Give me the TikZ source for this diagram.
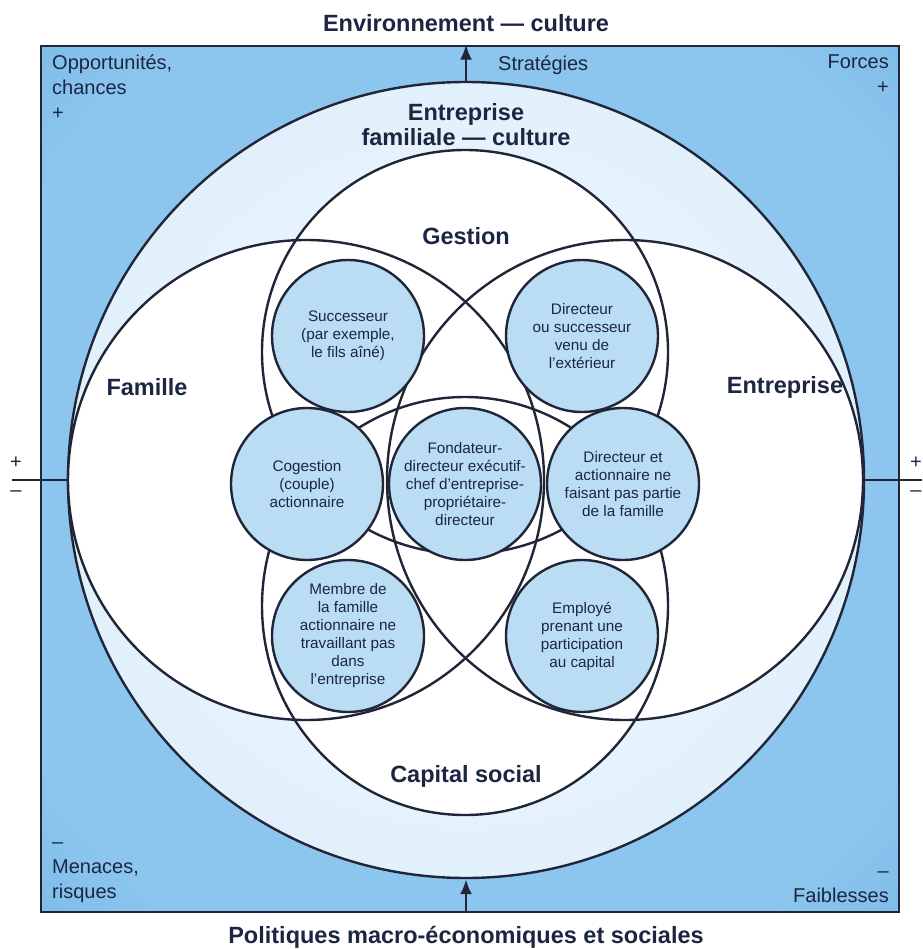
\documentclass[tikz,border=0pt]{standalone}
\usepackage{fontspec}
\setmainfont{Liberation Sans}
\usepackage{xcolor}
\usetikzlibrary{shapes,arrows.meta}

\definecolor{trait}{RGB}{32,38,56}
\definecolor{texte}{RGB}{28,38,66}
\definecolor{fond}{RGB}{86,160,220}
\definecolor{fondclair}{RGB}{140,198,238}
\definecolor{cercle}{RGB}{202,229,248}
\definecolor{cerclemi}{RGB}{232,243,252}
\definecolor{bulle}{RGB}{186,221,243}

\pgfdeclareradialshading{fondbox}{\pgfpoint{0bp}{0bp}}{color(0bp)=(fondclair); color(30bp)=(fondclair); color(52bp)=(fond); color(75bp)=(fond)}
\pgfdeclareradialshading{fondcercle}{\pgfpoint{0bp}{0bp}}{color(0bp)=(white); color(18bp)=(cerclemi); color(50bp)=(cercle)}

\tikzset{
  bulle/.style={circle, draw=trait, line width=2.4, fill=bulle, minimum size=152, inner sep=0,
    align=center, text=texte, font=\fontsize{15.3}{18}\selectfont},
  titre/.style={font=\bfseries\fontsize{23.5}{25}\selectfont, text=texte, align=center},
  coin/.style={font=\fontsize{20}{25}\selectfont, text=texte, inner sep=0},
  fleche/.style={line width=2.6, draw=trait, -{Latex[length=15pt,width=12pt]}}
}

\begin{document}
\begin{tikzpicture}[x=1pt, y=-1pt]
\useasboundingbox (0,0) rectangle (922,949);
% cadre et grand cercle
\node[rectangle, minimum width=858, minimum height=866, inner sep=0, shading=fondbox, draw=trait, line width=2.8] (cadre) at (470,479) {};
\node[circle, minimum size=796, inner sep=0, shading=fondcercle, draw=trait, line width=2.4] (cercle) at (466,480) {};

% famille, entreprise, gestion, capital social
\foreach \cx/\cy/\rx/\ry in {306/480/238/240, 625/480/238/240, 465/352/203/202, 465/606/203/209}
  \fill[white] (\cx,\cy) ellipse [x radius=\rx, y radius=\ry];
\foreach \cx/\cy/\rx/\ry in {306/480/238/240, 625/480/238/240, 465/352/203/202, 465/606/203/209}
  \draw[trait, line width=2.4] (\cx,\cy) ellipse [x radius=\rx, y radius=\ry];

% bulles
\node[bulle] (succ) at (348,336) {Successeur\\(par exemple,\\le fils aîné)};
\node[bulle] (dirext) at (582,336) {Directeur\\ou successeur\\venu de\\l'extérieur};
\node[bulle] (coges) at (307,484) {Cogestion\\(couple)\\actionnaire};
\node[bulle] (fond) at (465,484) {Fondateur-\\directeur exécutif-\\chef d'entreprise-\\propriétaire-\\directeur};
\node[bulle] (dirnf) at (623,484) {Directeur et\\actionnaire ne\\faisant pas partie\\de la famille};
\node[bulle] (membre) at (348,636) {Membre de\\la famille\\actionnaire ne\\travaillant pas\\dans\\l'entreprise};
\node[bulle] (empl) at (582,636) {Employé\\prenant une\\participation\\au capital};

% titres
\node[titre] (env) at (466,23) {Environnement — culture};
\node[titre] (pol) at (466,937) {Politiques macro-économiques et sociales};
\node[titre] (efc) at (466,125) {Entreprise\\familiale — culture};
\node[titre] (ges) at (466,236) {Gestion};
\node[titre] (fam) at (147,387) {Famille};
\node[titre] (entr) at (785,387) {Entreprise};
\node[titre] (cap) at (466,776) {Capital social};

% coins
\node[coin, anchor=north west, align=left] (opp) at (52,55) {Opportunités,\\chances\\+};
\node[coin, anchor=north east, align=right] (forces) at (889,55) {Forces\\+};
\node[coin, anchor=west] (strat) at (498,65) {Stratégies};
\node[coin, anchor=south west, align=left] (men) at (52,903) {–\\Menaces,\\risques};
\node[coin, anchor=south east, align=right] (faib) at (889,903) {–\\Faiblesses};

% fleches
\draw[fleche] (cercle.north) -- (cercle.north |- cadre.north);
\draw[fleche] (cercle.south |- cadre.south) -- (cercle.south);

% lignes laterales
\coordinate (gauche) at (12,480);
\coordinate (droite) at (922,480);
\draw[trait, line width=2.2] (gauche) -- (cercle.west);
\draw[trait, line width=2.2] (cercle.east) -- (droite);
\node[coin] (pg) at (16,463) {+};
\node[coin] (mg) at (16,494) {–};
\node[coin] (pd) at (916,463) {+};
\node[coin] (md) at (916,494) {–};
\end{tikzpicture}
\end{document}
